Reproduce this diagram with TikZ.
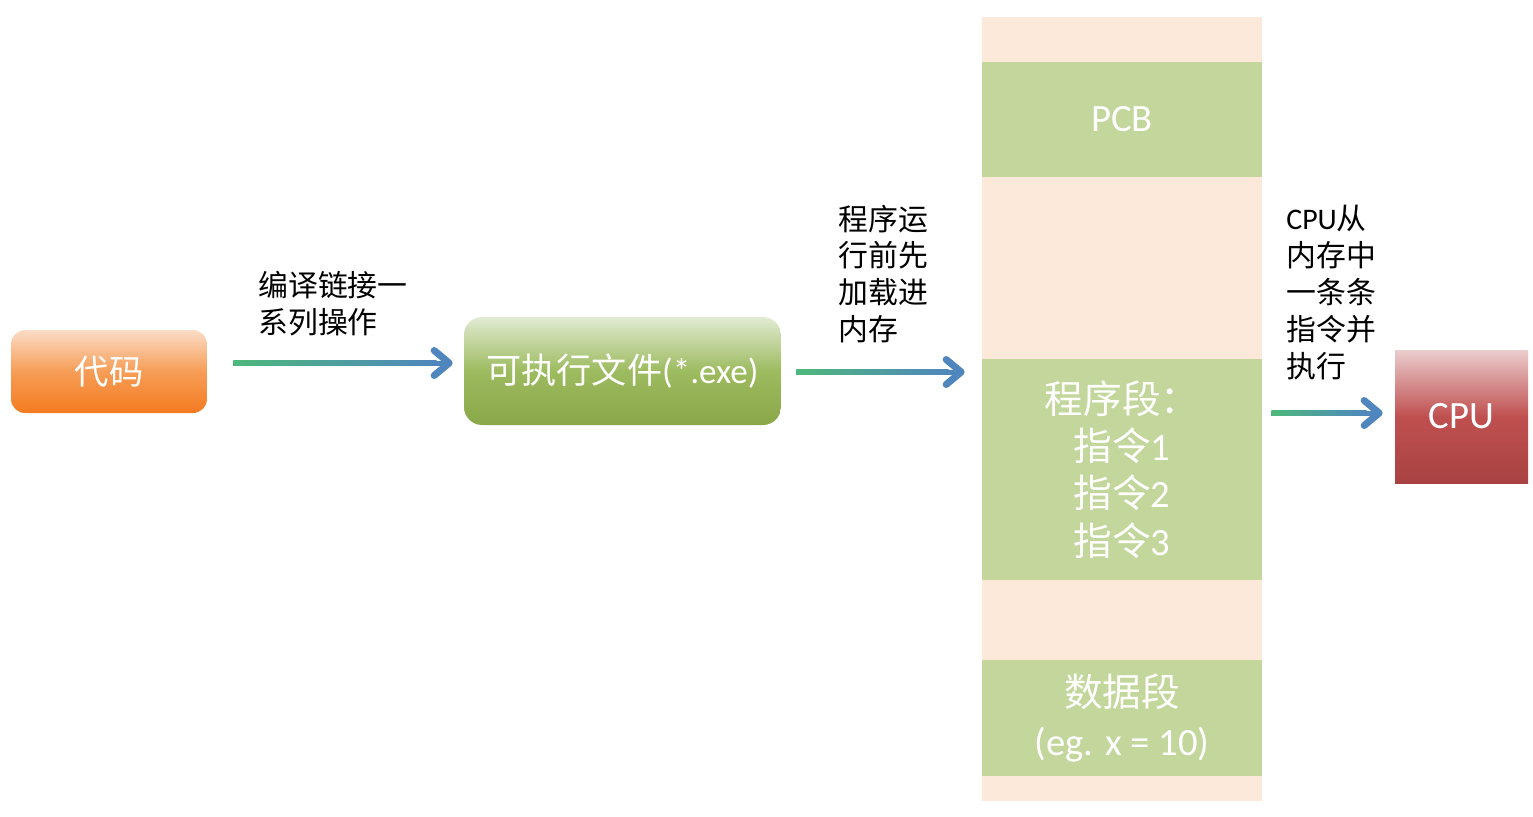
\documentclass[tikz,border=0pt]{standalone}
\usepackage{fontspec}
\setmainfont{Carlito}
\newfontfamily\cjk{Noto Sans CJK SC}
\usetikzlibrary{arrows.meta,calc}
\definecolor{memback}{HTML}{FDE9D9}
\definecolor{seggreen}{HTML}{C3D69B}
\definecolor{flowgreen}{HTML}{4EB87B}
\definecolor{flowblue}{HTML}{4F86BE}
\tikzset{
  seg/.style={fill=seggreen, minimum width=5.6cm, inner sep=0pt, text=white, align=center, font=\fontsize{22}{27}\selectfont},
  note/.style={anchor=west, align=left, inner sep=0pt, font=\cjk\fontsize{17}{21}\selectfont},
  flow/.style={line width=0.1cm, flowblue, -{Straight Barb[length=0.3cm, width=0.5cm, line width=0.14cm, round]}}
}
\begin{document}
\begin{tikzpicture}[x=0.02cm, y=-0.02cm]
\useasboundingbox (0,0) rectangle (1533,816);

\node[rounded corners=0.28cm, minimum width=3.92cm, minimum height=1.66cm, top color={rgb,255:red,251;green,220;blue,198}, bottom color={rgb,255:red,244;green,123;blue,32}, middle color={rgb,255:red,246;green,157;blue,86}, text=white, font=\cjk\fontsize{19.5}{23}\selectfont] (code) at (109,371.5) {代码};
\node[rounded corners=0.36cm, minimum width=6.34cm, minimum height=2.16cm, top color={rgb,255:red,225;green,235;blue,211}, bottom color={rgb,255:red,138;green,168;blue,72}, middle color={rgb,255:red,157;green,187;blue,95}, text=white, font=\fontsize{20}{24}\selectfont] (exe) at (622.5,371) {{\cjk 可执行文件}(*.exe)};

\node[fill=memback, minimum width=5.6cm, minimum height=15.68cm, inner sep=0pt] (mem) at (1122,409) {};
\node[seg, minimum height=2.3cm] (pcb) at (1122,119.5) {PCB};
\node[seg, minimum height=4.42cm] (prog) at (1122,469.5) {{\cjk 程序段：}\\{\cjk 指令}1\\{\cjk 指令}2\\{\cjk 指令}3};
\node[seg, minimum height=2.32cm, font=\fontsize{22}{28}\selectfont] (data) at (1122,718) {{\cjk 数据段}\\(eg. x = 10)};

\node[minimum width=2.66cm, minimum height=2.66cm, top color={rgb,255:red,235;green,205;blue,205}, bottom color={rgb,255:red,168;green,66;blue,66}, middle color={rgb,255:red,192;green,80;blue,80}, text=white, font=\fontsize{22}{26}\selectfont] (cpu) at (1461.5,416.5) {CPU};

\node[note] (compile) at (258,303.5) {编译链接一\\系列操作};
\node[note] (load) at (838,274) {程序运\\行前先\\加载进\\内存};
\node[note] (fetch) at (1286,292.5) {{\rmfamily CPU}从\\内存中\\一条条\\指令并\\执行};

\coordinate (f1s) at ($(code.east)+(26,-8.5)$);
\coordinate (f1e) at ($(exe.west)+(-11,-8)$);
\coordinate (f2s) at ($(exe.east)+(15,1)$);
\coordinate (f2e) at ($(mem.west)+(-17,-37)$);
\coordinate (f3s) at ($(mem.east)+(9,4)$);
\coordinate (f3e) at ($(cpu.west)+(-12,-3.5)$);

\draw[flow] (f1s) -- (f1e);
\draw[flow] (f2s) -- (f2e);
\draw[flow] (f3s) -- (f3e);
\shade[left color=flowgreen, right color=flowblue] ($(f1s)+(0,-2.5)$) rectangle ($(f1e)+(-16,2.5)$);
\shade[left color=flowgreen, right color=flowblue] ($(f2s)+(0,-2.5)$) rectangle ($(f2e)+(-16,2.5)$);
\shade[left color=flowgreen, right color=flowblue] ($(f3s)+(0,-2.5)$) rectangle ($(f3e)+(-16,2.5)$);
\end{tikzpicture}
\end{document}
